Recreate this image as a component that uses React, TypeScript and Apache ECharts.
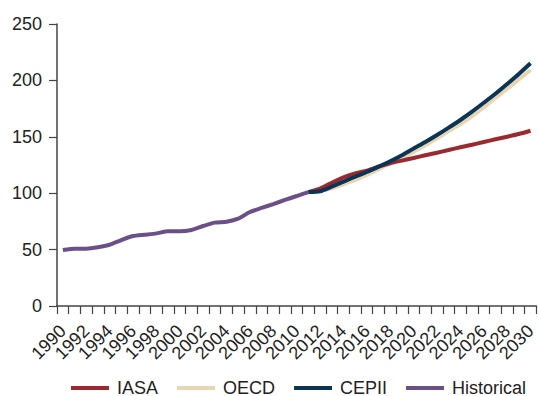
import React, { useEffect, useRef } from "react";
import * as echarts from "echarts";

const years: string[] = [];
for (let y = 1990; y <= 2030; y++) years.push(String(y));

const historical = [49.6, 50.8, 50.8, 52, 54.3, 58.5, 62, 63.2, 64.4, 66.2, 66.2, 67.4, 70.9, 73.9, 74.7, 77.4, 83.3, 86.9, 90.4, 94, 97.5, 101];
// 2011..2030
const iasa = [101, 104, 109.3, 114, 117.6, 120, 123.5, 126.5, 128.9, 131.2, 133.6, 135.9, 138.3, 140.7, 143, 145.4, 147.8, 150.1, 152.5, 155.4];
const oecd = [101, 102, 104.3, 107.9, 111.7, 116.1, 121.2, 126.5, 131.2, 136.8, 142.6, 148.5, 155, 161.3, 168.4, 176.1, 184.4, 192.6, 200.9, 209.2];
const cepii = [101, 101.7, 105.8, 110.2, 114.7, 118.8, 123.5, 128.3, 133.6, 139.6, 145.4, 151.6, 158.1, 164.9, 172.3, 180.2, 188.2, 196.8, 205.7, 215.2];

const projStart = 2011 - 1990;
const pad = (arr: number[], start: number) => {
  const out: (number | null)[] = years.map(() => null);
  arr.forEach((v, i) => (out[start + i] = v));
  return out;
};

const FONT = "'Liberation Sans', Arial, sans-serif";

export default function App() {
  const ref = useRef<HTMLDivElement>(null);
  useEffect(() => {
    if (!ref.current) return;
    const chart = echarts.init(ref.current, undefined, { renderer: "svg" });
    const line = (name: string, data: (number | null)[], color: string, z: number) => ({
      name,
      type: "line",
      data,
      z,
      smooth: 0.2,
      showSymbol: false,
      symbol: "none",
      connectNulls: false,
      lineStyle: { color, width: 4 },
      itemStyle: { color },
    });
    chart.setOption({
      animation: false,
      grid: { left: 57, right: 2, top: 24, bottom: 90, containLabel: false },
      legend: {
        left: 71,
        top: 379,
        padding: 0,
        icon: "rect",
        itemWidth: 38,
        itemHeight: 4,
        itemGap: 19,
        textStyle: { fontFamily: FONT, fontSize: 18, lineHeight: 14, color: "#222", padding: [0, 0, 0, 3] },
        data: ["IASA", "OECD", "CEPII", "Historical"],
      },
      xAxis: {
        type: "category",
        data: years,
        boundaryGap: true,
        axisLine: { lineStyle: { color: "#444", width: 1.5 } },
        axisTick: { show: true, length: 8, interval: 0, alignWithLabel: false, lineStyle: { color: "#444", width: 1.2 } },
        axisLabel: {
          interval: 0,
          formatter: (v: string) => (Number(v) % 2 === 0 ? v : ""),
          showMinLabel: true,
          showMaxLabel: true,
          hideOverlap: false,
          rotate: 45,
          margin: 22,
          fontFamily: FONT,
          fontSize: 18,
          color: "#222",
        },
        splitLine: { show: false },
      },
      yAxis: {
        type: "value",
        min: 0,
        max: 250,
        interval: 50,
        axisLine: { show: true, lineStyle: { color: "#444", width: 1.5 } },
        axisTick: { show: true, length: 8, lineStyle: { color: "#444", width: 1.2 } },
        axisLabel: { margin: 15, fontFamily: FONT, fontSize: 18, color: "#222" },
        splitLine: { show: false },
      },
      series: [
        line("IASA", pad(iasa, projStart), "#9b2a30", 2),
        line("OECD", pad(oecd, projStart), "#e8d5b2", 1),
        line("CEPII", pad(cepii, projStart), "#0b3557", 3),
        line("Historical", pad(historical, 0), "#6b5088", 4),
      ],
    });
    return () => chart.dispose();
  }, []);
  return <div ref={ref} style={{ width: 539, height: 396, position: "absolute", left: 0, top: 0 }} />;
}
